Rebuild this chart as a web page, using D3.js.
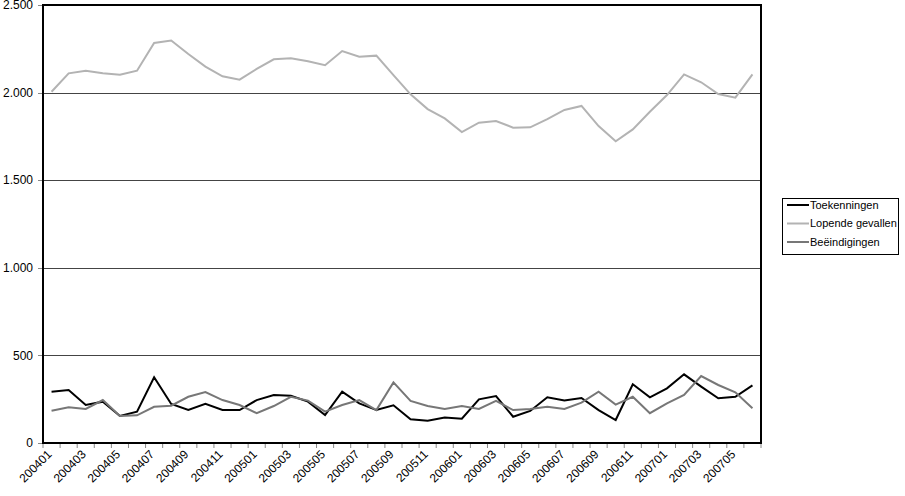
<!DOCTYPE html>
<html>
<head>
<meta charset="utf-8">
<script src="https://cdn.jsdelivr.net/npm/d3@7"></script>
<style>
  body { margin: 0; background: #fff; }
  svg { font-family: "Liberation Sans", Arial, sans-serif; }
</style>
</head>
<body>
<div id="chart"></div>
<script>
// Months 200401 .. 200706
const months = [];
for (let y = 2004; y <= 2007; y++) {
    for (let m = 1; m <= 12; m++) {
        if (y === 2007 && m > 6) break;
        months.push(y + String(m).padStart(2, '0'));
    }
}

const toekenningen = [293, 302, 217, 236, 154, 179, 375, 223, 188, 223, 188, 188,
    245, 274, 270, 236, 160, 293, 226, 188, 215, 135, 127, 145,
    139, 249, 268, 150, 183, 261, 242, 257, 188, 131, 335, 261,
    312, 392, 322, 255, 264, 329];

const lopende = [2005, 2110, 2125, 2110, 2102, 2125, 2283, 2297, 2220, 2148, 2093, 2074,
    2135, 2190, 2196, 2179, 2156, 2237, 2205, 2211, 2100, 1990, 1906, 1853,
    1775, 1828, 1838, 1800, 1802, 1849, 1901, 1924, 1809, 1722, 1790, 1891,
    1986, 2104, 2059, 1992, 1971, 2104];

const beeindigingen = [184, 204, 194, 245, 154, 158, 207, 213, 264, 291, 245, 217,
    170, 211, 264, 242, 179, 217, 245, 188, 346, 240, 211, 194,
    211, 194, 240, 188, 194, 207, 194, 230, 293, 219, 264, 170,
    226, 274, 382, 331, 289, 198];

const yTicks = [0, 500, 1000, 1500, 2000, 2500];

const series = [
    { name: 'Toekenningen', values: toekenningen, color: '#000000' },
    { name: 'Lopende gevallen', values: lopende, color: '#b3b3b3' },
    { name: 'Beëindigingen', values: beeindigingen, color: '#777777' }
];

const width = 905, height = 496;
const margin = { top: 5, right: 144, bottom: 53, left: 43 };

const svg = d3.select('#chart')
    .append('svg')
    .attr('width', width)
    .attr('height', height);

const x = d3.scaleBand()
    .domain(months)
    .range([margin.left, width - margin.right]);

const y = d3.scaleLinear()
    .domain([0, 2500])
    .range([height - margin.bottom, margin.top]);

const fmt = v => d3.format(',')(v).replace(/,/g, '.');

// Gridlines
svg.append('g')
    .selectAll('line')
    .data(yTicks.slice(1, -1))
    .join('line')
    .attr('x1', margin.left)
    .attr('x2', width - margin.right)
    .attr('y1', d => Math.round(y(d)) + 0.5)
    .attr('y2', d => Math.round(y(d)) + 0.5)
    .attr('stroke', '#444')
    .attr('stroke-width', 1);

// Y axis ticks and labels
const yAxis = svg.append('g');
yAxis.selectAll('line')
    .data(yTicks)
    .join('line')
    .attr('x1', margin.left - 5)
    .attr('x2', margin.left)
    .attr('y1', d => Math.round(y(d)) + 0.5)
    .attr('y2', d => Math.round(y(d)) + 0.5)
    .attr('stroke', '#888');
yAxis.selectAll('text')
    .data(yTicks)
    .join('text')
    .attr('x', margin.left - 10)
    .attr('y', d => y(d))
    .attr('dy', '0.35em')
    .attr('text-anchor', 'end')
    .attr('font-size', 12)
    .text(fmt);

// X axis ticks (between categories)
const bottom = height - margin.bottom;
svg.append('g')
    .selectAll('line')
    .data(months.concat(['end']))
    .join('line')
    .attr('x1', (d, i) => margin.left + i * x.bandwidth())
    .attr('x2', (d, i) => margin.left + i * x.bandwidth())
    .attr('y1', bottom)
    .attr('y2', bottom + 5)
    .attr('stroke', '#888');

// X labels, every second month
svg.append('g')
    .selectAll('text')
    .data(months.filter((d, i) => i % 2 === 0 && i < months.length - 1))
    .join('text')
    .attr('transform', d => `translate(${x(d) + x.bandwidth() / 2 - 2},${bottom + 9}) rotate(-45)`)
    .attr('text-anchor', 'end')
    .attr('dy', '0.35em')
    .attr('font-size', 12)
    .text(d => d);

// Lines
const line = d3.line()
    .x((d, i) => x(months[i]) + x.bandwidth() / 2)
    .y(d => y(d));

svg.append('g')
    .selectAll('path')
    .data(series)
    .join('path')
    .attr('d', d => line(d.values))
    .attr('fill', 'none')
    .attr('stroke', d => d.color)
    .attr('stroke-width', 2)
    .attr('stroke-linejoin', 'miter');

// Plot frame
svg.append('rect')
    .attr('x', margin.left)
    .attr('y', margin.top)
    .attr('width', width - margin.right - margin.left)
    .attr('height', height - margin.bottom - margin.top)
    .attr('fill', 'none')
    .attr('stroke', '#000')
    .attr('stroke-width', 2);

// Legend
const legend = svg.append('g').attr('transform', 'translate(782,198)');
legend.append('rect')
    .attr('x', 0.5)
    .attr('y', 0.5)
    .attr('width', 116)
    .attr('height', 56)
    .attr('fill', '#fff')
    .attr('stroke', '#000');

const items = legend.selectAll('g.item')
    .data(series)
    .join('g')
    .attr('class', 'item')
    .attr('transform', (d, i) => `translate(0,${7 + i * 18.5})`);
items.append('line')
    .attr('x1', 5)
    .attr('x2', 27)
    .attr('y1', 0)
    .attr('y2', 0)
    .attr('stroke', d => d.color)
    .attr('stroke-width', 2);
items.append('text')
    .attr('x', 28)
    .attr('y', 0)
    .attr('dy', '0.35em')
    .attr('font-size', 11)
    .text(d => d.name);
</script>
</body>
</html>
